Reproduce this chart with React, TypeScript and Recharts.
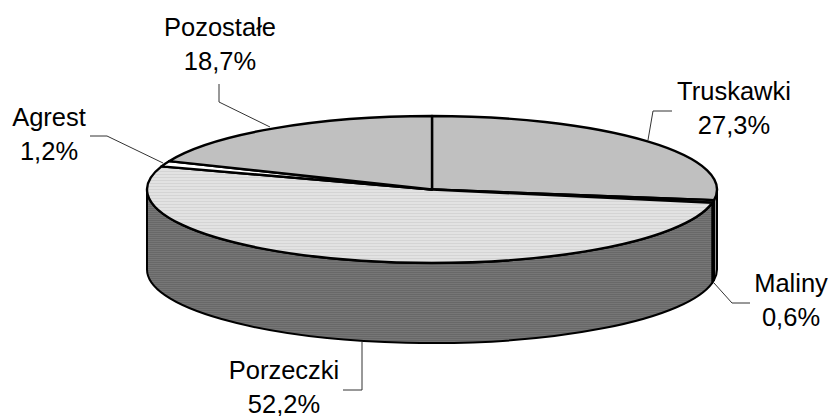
import React from 'react';
import { PieChart, Pie, Cell } from 'recharts';

const categories = ['Truskawki', 'Maliny', 'Porzeczki', 'Agrest', 'Pozostałe'];
const shares = [27.3, 0.6, 52.2, 1.2, 18.7];
const shareLabels = ['27,3%', '0,6%', '52,2%', '1,2%', '18,7%'];
const data = categories.map((name, i) => ({ name, value: shares[i] }));

const topFills = ['#c0c0c0', '#808080', 'url(#lightStripes)', '#ffffff', '#c0c0c0'];
const wallFills = ['#a0a0a0', '#606060', 'url(#darkStripes)', '#ffffff', '#8c8c8c'];

const W = 833;
const H = 416;
const CX = 432;
const CY = 189.5;
const RX = 285;
const RY = 73.5;
const DEPTH = 80;
const RATIO = RY / RX;

// label text anchor (centre x, baseline of first line) and leader polyline
const labelBoxes = [
  { x: 734, y: 100, line: '672,111 653,111 648,140' },
  { x: 791, y: 292, line: '714,283 732,303 750,303' },
  { x: 284, y: 379, line: '362,342 362,390 343,390' },
  { x: 49, y: 126, line: '90,136 107,136 163,163' },
  { x: 220, y: 36, line: '219,84 219,102 270,127' },
];

const pt = (cx: number, cy: number, r: number, a: number) => {
  const t = (a * Math.PI) / 180;
  return [cx + r * Math.cos(t), cy - r * RATIO * Math.sin(t)];
};

function topPath(cx: number, cy: number, r: number, a0: number, a1: number) {
  const [x0, y0] = pt(cx, cy, r, a0);
  const [x1, y1] = pt(cx, cy, r, a1);
  const large = Math.abs(a1 - a0) > 180 ? 1 : 0;
  return `M${cx},${cy}L${x0},${y0}A${r},${r * RATIO} 0 ${large} 1 ${x1},${y1}Z`;
}

function wallPath(cx: number, cy: number, r: number, a0: number, a1: number) {
  const hi = Math.min(a0, 0);
  const lo = Math.max(a1, -180);
  if (hi <= lo) return null;
  const [x0, y0] = pt(cx, cy, r, hi);
  const [x1, y1] = pt(cx, cy, r, lo);
  const large = hi - lo > 180 ? 1 : 0;
  const rr = r * RATIO;
  return `M${x0},${y0}A${r},${rr} 0 ${large} 1 ${x1},${y1}L${x1},${y1 + DEPTH}A${r},${rr} 0 ${large} 0 ${x0},${y0 + DEPTH}Z`;
}

const Slice3D = (props: any) => {
  const { cx, cy, outerRadius, startAngle, endAngle, index } = props;
  const wall = wallPath(cx, cy, outerRadius, startAngle, endAngle);
  return (
    <g>
      {wall && <path d={wall} fill={wallFills[index]} stroke="#000" strokeWidth={2} strokeLinejoin="round" />}
      <path d={topPath(cx, cy, outerRadius, startAngle, endAngle)} fill={topFills[index]} stroke="#000" strokeWidth={2.4} strokeLinejoin="round" />
    </g>
  );
};

const renderLabel = (props: any) => {
  const { index } = props;
  const b = labelBoxes[index];
  return (
    <g key={index}>
      <polyline points={b.line} fill="none" stroke="#333" strokeWidth={1} />
      <text x={b.x} y={b.y} textAnchor="middle" fontFamily="'Liberation Sans', Arial, sans-serif" fontSize={25.5} fill="#000">
        <tspan x={b.x}>{categories[index]}</tspan>
        <tspan x={b.x} dy={34}>{shareLabels[index]}</tspan>
      </text>
    </g>
  );
};

export default function App() {
  return (
    <div style={{ position: 'absolute', left: 0, top: 0, width: W, height: H, background: '#fff' }}>
      <PieChart width={W} height={H} margin={{ top: 0, right: 0, bottom: 0, left: 0 }}>
        <defs>
          <pattern id="lightStripes" width="4" height="3" patternUnits="userSpaceOnUse">
            <rect width="4" height="3" fill="#e2e2e2" />
            <rect width="4" height="1" fill="#d4d4d4" />
          </pattern>
          <pattern id="darkStripes" width="4" height="2" patternUnits="userSpaceOnUse">
            <rect width="4" height="2" fill="#767676" />
            <rect width="4" height="1" fill="#686868" />
          </pattern>
        </defs>
        <Pie
          data={data}
          dataKey="value"
          nameKey="name"
          cx={CX}
          cy={CY}
          innerRadius={0}
          outerRadius={RX}
          startAngle={90}
          endAngle={-270}
          paddingAngle={0}
          isAnimationActive={false}
          shape={Slice3D}
          label={renderLabel}
          labelLine={false}
        >
          {data.map((d) => (
            <Cell key={d.name} />
          ))}
        </Pie>
      </PieChart>
    </div>
  );
}
